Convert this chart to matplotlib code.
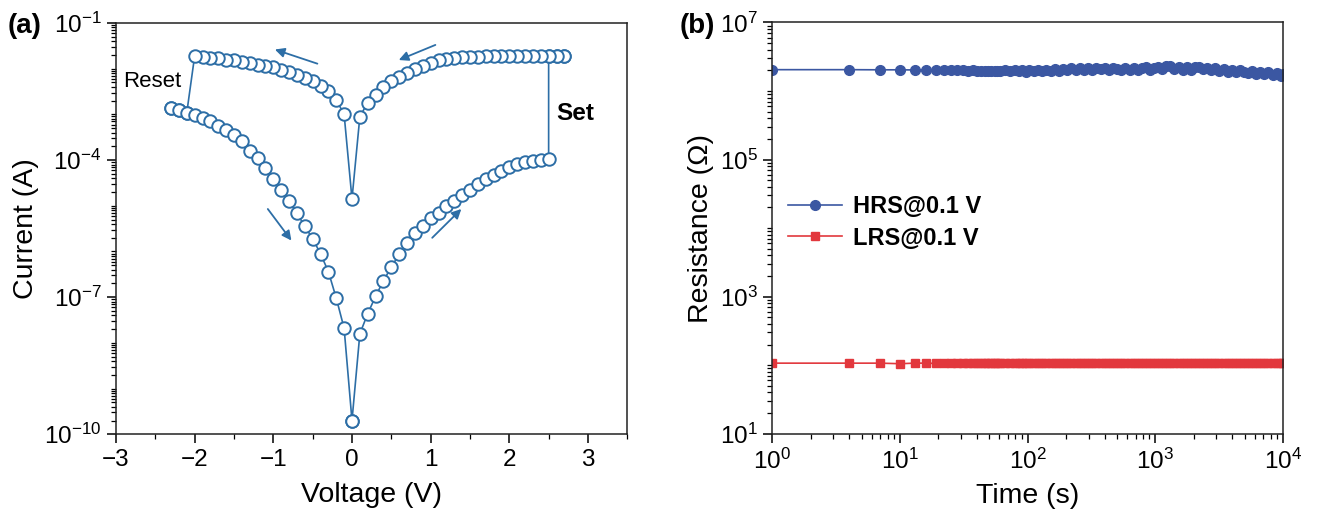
import numpy as np
import matplotlib.pyplot as plt
from matplotlib.ticker import LogLocator, MultipleLocator, NullFormatter

plt.rcParams['font.family'] = ['Liberation Sans', 'DejaVu Sans']
plt.rcParams['mathtext.fontset'] = 'custom'
plt.rcParams['mathtext.rm'] = 'Liberation Sans'
plt.rcParams['mathtext.it'] = 'Liberation Sans:italic'
plt.rcParams['mathtext.bf'] = 'Liberation Sans:bold'

# (a) I-V loop, current read as log10(I / A)
v_pos = [0.1, 0.2, 0.3, 0.4, 0.5, 0.6, 0.7, 0.8, 0.9, 1.0, 1.1, 1.2, 1.3, 1.4,
         1.5, 1.6, 1.7, 1.8, 1.9, 2.0, 2.1, 2.2, 2.3, 2.4, 2.5, 2.6, 2.7]
logi_pos_low = [-7.80, -7.36, -6.98, -6.64, -6.34, -6.06, -5.82, -5.60, -5.44,
                -5.26, -5.15, -5.00, -4.89, -4.77, -4.65, -4.53, -4.42, -4.32,
                -4.24, -4.15, -4.09, -4.05, -4.02, -3.99, -3.97]
logi_pos_high = [-3.05, -2.74, -2.57, -2.41, -2.28, -2.19, -2.10, -2.01, -1.93,
                 -1.87, -1.82, -1.78, -1.76, -1.75, -1.74, -1.74, -1.73, -1.73,
                 -1.72, -1.72, -1.72, -1.72, -1.72, -1.72, -1.72, -1.72, -1.72]
v_neg = [-0.1, -0.2, -0.3, -0.4, -0.5, -0.6, -0.7, -0.8, -0.9, -1.0, -1.1, -1.2,
         -1.3, -1.4, -1.5, -1.6, -1.7, -1.8, -1.9, -2.0, -2.1, -2.2, -2.3]
logi_neg_high = [-3.00, -2.68, -2.49, -2.37, -2.28, -2.20, -2.14, -2.08, -2.02,
                 -1.97, -1.95, -1.91, -1.87, -1.85, -1.82, -1.80, -1.77, -1.76,
                 -1.74, -1.72]
logi_neg_low = [-7.68, -7.02, -6.44, -6.05, -5.72, -5.45, -5.16, -4.90, -4.65,
                -4.41, -4.17, -3.96, -3.80, -3.59, -3.46, -3.35, -3.26, -3.15,
                -3.07, -3.01, -2.96, -2.91, -2.87]
logi_zero_low = -9.70
logi_zero_high = -4.85

# (b) retention
time_s = [1, 4, 7, 10, 13, 16, 19, 22, 25, 28,
          31, 34, 37, 40, 43, 46, 49, 52, 55, 58,
          61, 67, 73, 79, 85, 91, 97, 103, 112, 121,
          130, 139, 151, 163, 175, 190, 205, 220, 238, 256,
          277, 298, 322, 346, 373, 403, 433, 466, 502, 541,
          583, 628, 676, 727, 784, 844, 907, 976, 1051, 1132,
          1219, 1312, 1411, 1519, 1636, 1762, 1897, 2041, 2200, 2368,
          2548, 2743, 2953, 3178, 3421, 3682, 3964, 4267, 4594, 4945,
          5323, 5731, 6169, 6640, 7147, 7693, 8281, 8914, 9595, 9997]
hrs_mohm = [2.05, 2.05, 2.04, 2.04, 2.03, 2.03, 2.02, 2.01, 2.01, 2.00,
            2.00, 1.99, 2.00, 1.98, 1.99, 1.98, 1.99, 1.97, 1.98, 1.99,
            1.97, 2.03, 1.93, 2.01, 1.94, 2.03, 1.92, 2.02, 1.96, 2.04,
            1.94, 2.05, 1.96, 2.08, 1.98, 2.11, 2.01, 2.14, 2.02, 2.16,
            2.05, 2.18, 2.04, 2.17, 2.08, 2.20, 2.03, 2.18, 2.11, 2.00,
            2.18, 2.06, 2.20, 2.02, 2.15, 2.21, 2.05, 2.18, 2.24, 2.08,
            2.30, 2.34, 2.13, 2.26, 2.06, 2.22, 2.01, 2.24, 2.27, 2.10,
            2.20, 2.03, 2.16, 1.97, 2.12, 1.92, 2.06, 1.87, 2.01, 1.90,
            1.84, 1.96, 1.79, 1.90, 1.76, 1.87, 1.72, 1.84, 1.68, 1.80]
lrs_ohm = [107, 107, 107, 105, 107, 107, 106, 107, 107, 107,
           107, 107, 106, 107, 107, 107, 107, 108, 107, 107,
           107, 107, 107, 106, 107, 107, 107, 107, 107, 107,
           107, 108, 107, 107, 107, 107, 106, 107, 107, 107,
           107, 107, 107, 107, 108, 107, 107, 107, 107, 107,
           107, 107, 107, 107, 107, 106, 107, 107, 107, 107,
           107, 107, 108, 107, 107, 107, 107, 107, 107, 107,
           107, 107, 107, 107, 106, 107, 107, 107, 107, 107,
           107, 107, 107, 107, 107, 107, 108, 107, 107, 107]

c_iv = '#2d6ea6'
c_hrs = '#3b57a2'
c_lrs = '#e2383d'

fig = plt.figure(figsize=(13.22, 5.11), dpi=100)
ax1 = fig.add_axes([116 / 1322, 1 - 434.3 / 511, 511.3 / 1322, 411.3 / 511])
ax2 = fig.add_axes([772.3 / 1322, 1 - 433.7 / 511, 510.7 / 1322, 411.2 / 511])

# loop path: 0 -> +2.7 -> 0 -> -2.3 -> 0
path_v = ([0.0] + v_pos[:25] + v_pos[24:] + v_pos[::-1] + [0.0]
          + v_neg[:20] + v_neg[20:] + v_neg[::-1] + [0.0])
path_log = ([logi_zero_low] + logi_pos_low + logi_pos_high[24:] + logi_pos_high[::-1]
            + [logi_zero_high] + logi_neg_high + logi_neg_low[20:]
            + logi_neg_low[::-1] + [logi_zero_low])
ax1.plot(path_v, np.power(10.0, path_log), '-o', color=c_iv, lw=1.2,
         ms=9, mfc='white', mec=c_iv, mew=1.4)
ax1.set_yscale('log')
ax1.set_xlim(-3, 3.5)
ax1.set_ylim(1e-10, 1e-1)
ax1.set_yticks([1e-10, 1e-7, 1e-4, 1e-1])
ax1.yaxis.set_minor_locator(LogLocator(base=10, subs=np.arange(1, 10) * 1.0, numticks=100))
ax1.yaxis.set_minor_formatter(NullFormatter())
ax1.xaxis.set_major_locator(MultipleLocator(1))
ax1.xaxis.set_minor_locator(MultipleLocator(0.5))
ax1.set_xlabel('Voltage (V)', fontsize=20.5)
ax1.set_ylabel('Current (A)', fontsize=20.5)
ax1.xaxis.set_label_coords(0.5, -0.115)
ax1.yaxis.set_label_coords(-0.15, 0.5)

# sweep arrows
arrows = [((1.06, -1.48), (0.595, -1.81)),
          ((-0.44, -1.89), (-0.98, -1.58)),
          ((-1.07, -5.07), (-0.77, -5.76)),
          ((1.02, -5.70), (1.39, -5.07))]
for (x0, y0), (x1, y1) in arrows:
    ax1.annotate('', xy=(x1, 10 ** y1), xytext=(x0, 10 ** y0),
                 arrowprops=dict(arrowstyle='-|>', color=c_iv, lw=1.3,
                                 mutation_scale=14, shrinkA=0, shrinkB=0))
ax1.text(-2.91, 10 ** -2.29, 'Reset', fontsize=16, ha='left', va='center')
ax1.text(2.60, 10 ** -2.98, 'Set', fontsize=17.5, fontweight='bold', ha='left', va='center')

ax2.plot(time_s, np.array(hrs_mohm) * 1e6, '-o', color=c_hrs, lw=1.2, ms=7,
         label='HRS@0.1 V')
ax2.plot(time_s, lrs_ohm, '-s', color=c_lrs, lw=1.2, ms=5.5, label='LRS@0.1 V')
ax2.set_xscale('log')
ax2.set_yscale('log')
ax2.set_xlim(1, 1e4)
ax2.set_ylim(10, 1e7)
ax2.set_xticks([1, 10, 100, 1000, 10000])
ax2.set_yticks([1e1, 1e3, 1e5, 1e7])
ax2.xaxis.set_minor_locator(LogLocator(base=10, subs=np.arange(2, 10) * 1.0, numticks=100))
ax2.yaxis.set_minor_locator(LogLocator(base=10, subs=np.arange(1, 10) * 1.0, numticks=100))
ax2.xaxis.set_minor_formatter(NullFormatter())
ax2.yaxis.set_minor_formatter(NullFormatter())
ax2.set_xlabel('Time (s)', fontsize=20.5)
ax2.set_ylabel('Resistance (\u03a9)', fontsize=20.5)
ax2.xaxis.set_label_coords(0.5, -0.12)
ax2.yaxis.set_label_coords(-0.115, 0.5)
ax2.legend(loc='upper left', bbox_to_anchor=(0.031, 0.58), frameon=False,
           prop={'weight': 'bold', 'size': 17}, borderpad=0, borderaxespad=0,
           handlelength=2.3, handletextpad=0.45, labelspacing=0.36)

for ax in (ax1, ax2):
    for s in ax.spines.values():
        s.set_linewidth(1.1)
        s.set_color('#222222')
    ax.tick_params(which='major', direction='out', length=6.5, width=1.1,
                   labelsize=17.5, pad=4, top=False, right=False)
    ax.tick_params(which='minor', direction='out', length=3.5, width=0.9,
                   top=False, right=False)

fig.text(8 / 1322, 1 - 26 / 511, '(a)', fontsize=20, fontweight='bold', ha='left', va='center')
fig.text(680 / 1322, 1 - 26 / 511, '(b)', fontsize=20, fontweight='bold', ha='left', va='center')

fig.savefig('out.png', dpi=100)
